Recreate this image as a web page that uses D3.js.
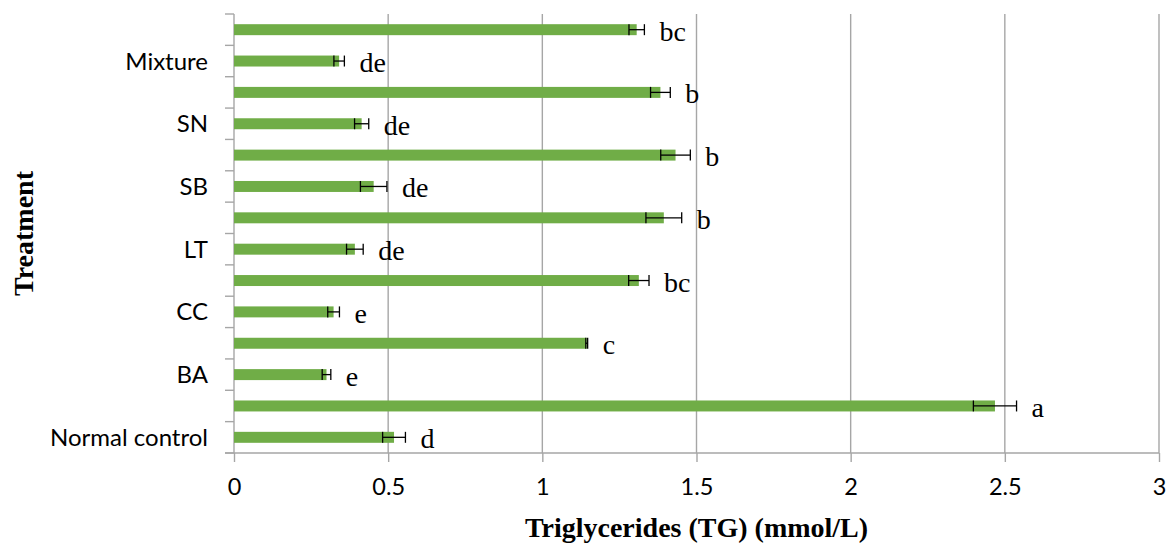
<!DOCTYPE html>
<html>
<head>
<meta charset="utf-8">
<script src="https://cdn.jsdelivr.net/npm/d3@7"></script>
<style>
  html, body { margin: 0; padding: 0; background: #ffffff; }
  svg { display: block; }
</style>
</head>
<body>
<div id="chart"></div>
<script>
// Treatment rows, listed from the bottom of the chart upward
const categories = ["Normal control", "", "BA", "", "CC", "", "LT", "", "SB", "", "SN", "", "Mixture", ""];
// Mean triglyceride level (mmol/L) for each row
const tgMeans = [0.519, 2.468, 0.300, 1.144, 0.323, 1.313, 0.392, 1.394, 0.453, 1.432, 0.414, 1.383, 0.341, 1.306];
// Standard error of each mean
const tgErrors = [0.037, 0.070, 0.014, 0.003, 0.019, 0.033, 0.027, 0.058, 0.043, 0.048, 0.023, 0.032, 0.017, 0.025];
// Significance letters
const sigLetters = ["d", "a", "e", "c", "e", "bc", "de", "b", "de", "b", "de", "b", "de", "bc"];
// Value axis ticks
const xTicks = [0, 0.5, 1, 1.5, 2, 2.5, 3];

const W = 1167, H = 543;
const margin = { left: 234, right: 8, top: 14, bottom: 90 };
const plotW = W - margin.left - margin.right;
const plotH = H - margin.top - margin.bottom;

const svg = d3.select("#chart").append("svg")
  .attr("width", W).attr("height", H);

svg.append("rect").attr("width", W).attr("height", H).attr("fill", "#ffffff");

const g = svg.append("g").attr("transform", `translate(${margin.left},${margin.top})`);

const x = d3.scaleLinear().domain([0, 3]).range([0, plotW]);
const y = d3.scaleBand().domain(d3.range(categories.length)).range([plotH, 0]).padding(0);

const axisGrey = "#a6a6a6";
const tickFont = "Lato, 'Open Sans', sans-serif";

// Vertical gridlines
g.append("g").selectAll("line")
  .data(xTicks.filter(t => t > 0))
  .join("line")
  .attr("x1", d => x(d)).attr("x2", d => x(d))
  .attr("y1", 0).attr("y2", plotH)
  .attr("stroke", axisGrey).attr("stroke-width", 1.4);

// Value axis at the bottom
const xAxis = g.append("g")
  .attr("transform", `translate(0,${plotH})`)
  .call(d3.axisBottom(x).tickValues(xTicks).tickSize(9).tickSizeOuter(0).tickFormat(d3.format("~g")));
xAxis.select(".domain").remove();
xAxis.selectAll(".tick line").attr("stroke", axisGrey).attr("stroke-width", 1.4);
xAxis.selectAll(".tick text")
  .attr("y", 42).attr("dy", null)
  .attr("fill", "#000")
  .style("font-family", tickFont)
  .style("font-size", "23.5px");
xAxis.append("line")
  .attr("x1", -9).attr("x2", plotW)
  .attr("y1", 0).attr("y2", 0)
  .attr("stroke", axisGrey).attr("stroke-width", 1.4);

// Category axis: labels at band centres, tick marks at band edges
const yAxis = g.append("g")
  .call(d3.axisLeft(y).tickSize(0).tickPadding(26).tickFormat(i => categories[i]));
yAxis.select(".domain").remove();
yAxis.selectAll(".tick text")
  .attr("dy", "8.5px")
  .attr("fill", "#000")
  .style("font-family", tickFont)
  .style("font-size", "24px");

const edges = d3.range(categories.length).map(i => y(i)).concat([y(0) + y.bandwidth()]);
g.append("g").selectAll("line")
  .data(edges)
  .join("line")
  .attr("x1", -9).attr("x2", 0)
  .attr("y1", d => d).attr("y2", d => d)
  .attr("stroke", axisGrey).attr("stroke-width", 1.4);
g.append("line")
  .attr("x1", 0).attr("x2", 0)
  .attr("y1", 0).attr("y2", plotH)
  .attr("stroke", axisGrey).attr("stroke-width", 1.4);

// Bars
const barH = y.bandwidth() * 0.35;
const rows = categories.map((c, i) => ({ i, mean: tgMeans[i], err: tgErrors[i], letter: sigLetters[i] }));
const cy = d => y(d.i) + y.bandwidth() / 2;

g.append("g").selectAll("rect")
  .data(rows)
  .join("rect")
  .attr("x", x(0))
  .attr("y", d => cy(d) - barH / 2)
  .attr("width", d => x(d.mean) - x(0))
  .attr("height", barH)
  .attr("fill", "#70ad47");

// Error bars
const eb = g.append("g").attr("stroke", "#000").attr("stroke-width", 1.3);
eb.selectAll("line.h")
  .data(rows).join("line").attr("class", "h")
  .attr("x1", d => x(d.mean - d.err)).attr("x2", d => x(d.mean + d.err))
  .attr("y1", cy).attr("y2", cy);
eb.selectAll("line.lo")
  .data(rows).join("line").attr("class", "lo")
  .attr("x1", d => x(d.mean - d.err)).attr("x2", d => x(d.mean - d.err))
  .attr("y1", d => cy(d) - barH / 2).attr("y2", d => cy(d) + barH / 2);
eb.selectAll("line.hi")
  .data(rows).join("line").attr("class", "hi")
  .attr("x1", d => x(d.mean + d.err)).attr("x2", d => x(d.mean + d.err))
  .attr("y1", d => cy(d) - barH / 2).attr("y2", d => cy(d) + barH / 2);

// Significance letters
g.append("g").selectAll("text")
  .data(rows)
  .join("text")
  .attr("x", d => x(d.mean + d.err) + 15)
  .attr("y", d => cy(d) + 11)
  .attr("fill", "#000")
  .style("font-family", "'Liberation Serif', 'Times New Roman', serif")
  .style("font-size", "28px")
  .text(d => d.letter);

// Axis titles
svg.append("text")
  .attr("x", margin.left + plotW / 2)
  .attr("y", 536.5)
  .attr("text-anchor", "middle")
  .attr("fill", "#000")
  .style("font-family", "'Liberation Serif', 'Times New Roman', serif")
  .style("font-weight", "bold")
  .style("font-size", "28px")
  .text("Triglycerides (TG) (mmol/L)");

svg.append("text")
  .attr("transform", `translate(33,${margin.top + plotH / 2}) rotate(-90)`)
  .attr("text-anchor", "middle")
  .attr("fill", "#000")
  .style("font-family", "'Liberation Serif', 'Times New Roman', serif")
  .style("font-weight", "bold")
  .style("font-size", "28px")
  .text("Treatment");
</script>
</body>
</html>
